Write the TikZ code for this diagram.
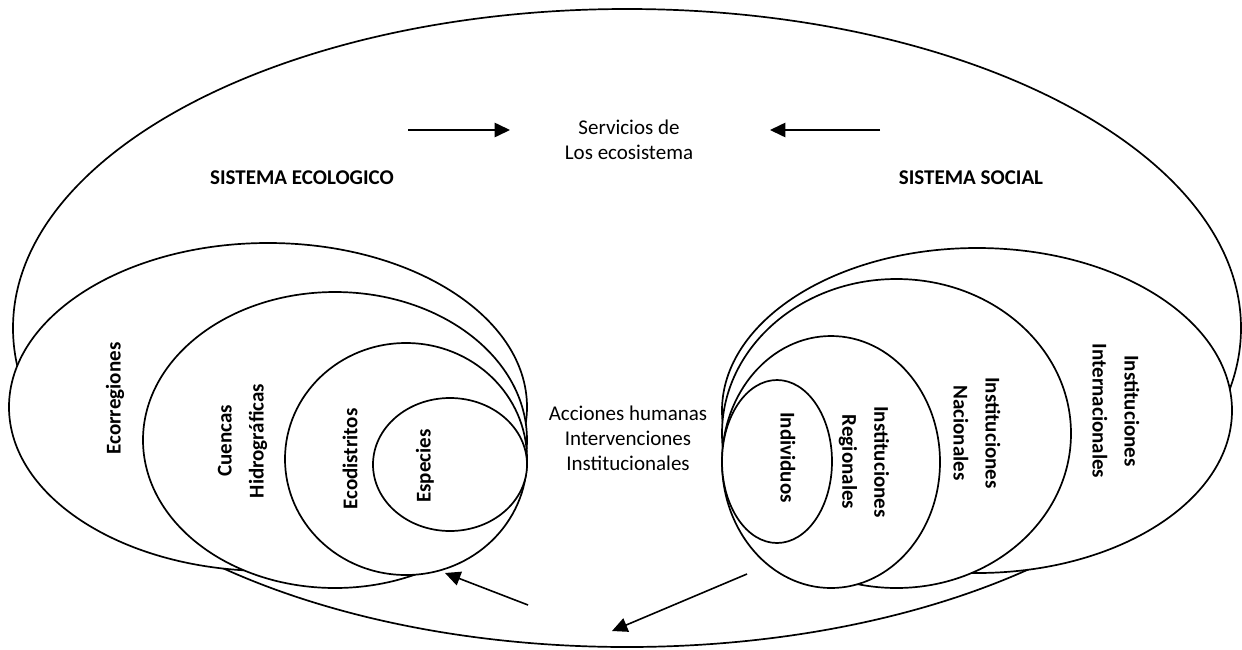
\documentclass[tikz,border=0pt]{standalone}
\usepackage{fontspec}
\setmainfont{Carlito}
\usetikzlibrary{arrows.meta}
\begin{document}
\begin{tikzpicture}[x=0.5pt,y=-0.5pt,
  ring/.style={draw=black,line width=0.85pt,fill=white},
  plain/.style={font=\fontsize{10.5}{12.5}\selectfont,align=center,inner sep=0pt},
  bold/.style={font=\fontsize{10.5}{12.5}\selectfont\bfseries,align=center,inner sep=0pt},
  vlab/.style={font=\fontsize{10.5}{16}\selectfont\bfseries,align=center,inner sep=0pt},
  flow/.style={line width=0.8pt,-{Triangle[length=7.7pt,width=7.2pt]}}]
\useasboundingbox (0,0) rectangle (1242,649);
% outer ellipse
\draw[ring] (627,328) ellipse [x radius=614,y radius=319];
% ecological system
\draw[ring] (268,407) ellipse [x radius=259,y radius=164];
\draw[ring] (335,440) ellipse [x radius=192,y radius=148];
\draw[ring] (406,459) ellipse [x radius=121,y radius=116];
\draw[ring] (450,464.5) ellipse [x radius=77,y radius=66.5];
% social system
\draw[ring] (977,410.5) ellipse [x radius=255,y radius=162.5];
\draw[ring] (896.5,433.5) ellipse [x radius=174.5,y radius=154.5];
\draw[ring] (831,462) ellipse [x radius=109,y radius=126];
\draw[ring] (777,461.5) ellipse [x radius=55,y radius=81.5];
% texts
\node[plain] (serv) at (629,140) {Servicios de\\Los ecosistema};
\node[bold] (ecol) at (302,178) {SISTEMA ECOLOGICO};
\node[bold] (soc) at (971,178) {SISTEMA SOCIAL};
\node[plain] (acc) at (628,438) {Acciones humanas\\Intervenciones\\Institucionales};
\node[vlab,rotate=90] (ecor) at (115,398.5) {Ecorregiones};
\node[vlab,rotate=90] (cuen) at (242.5,441) {Cuencas\\Hidrográficas};
\node[vlab,rotate=90] (ecod) at (350,459) {Ecodistritos};
\node[vlab,rotate=90] (espe) at (425,466) {Especies};
\node[vlab,rotate=-90] (indi) at (788,457.5) {Individuos};
\node[vlab,rotate=-90] (regi) at (864,462) {Instituciones\\Regionales};
\node[vlab,rotate=-90] (naci) at (977,433) {Instituciones\\Nacionales};
\node[vlab,rotate=-90] (inte) at (1116,411) {Instituciones\\Internacionales};
% arrows
\coordinate (a1s) at (408,130); \coordinate (a1e) at (510,130);
\coordinate (a2s) at (880,130); \coordinate (a2e) at (770,130);
\coordinate (a3s) at (528,605); \coordinate (a3e) at (445,573);
\coordinate (a4s) at (747,574); \coordinate (a4e) at (612,631);
\draw[flow] (a1s) -- (a1e);
\draw[flow] (a2s) -- (a2e);
\draw[flow] (a3s) -- (a3e);
\draw[flow] (a4s) -- (a4e);
\end{tikzpicture}
\end{document}
